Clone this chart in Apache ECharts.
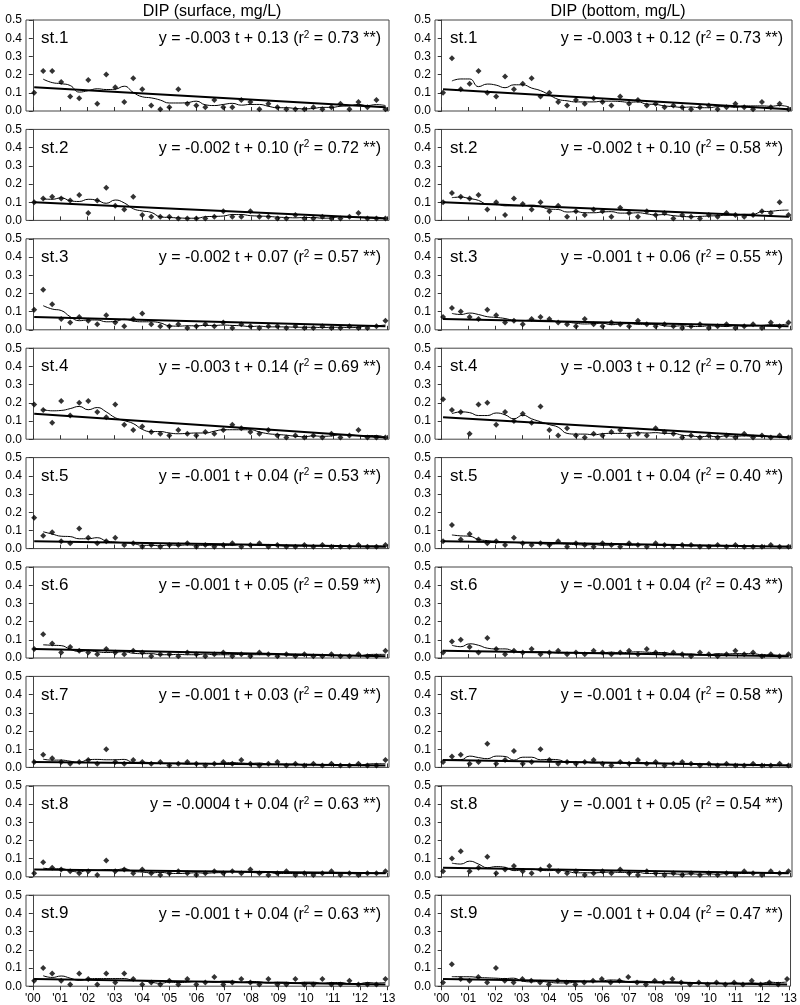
<!DOCTYPE html>
<html><head><meta charset="utf-8">
<script src="https://cdn.jsdelivr.net/npm/echarts@6/dist/echarts.min.js"></script>
<style>html,body{margin:0;padding:0;background:#fff}#c{width:800px;height:1005px}</style>
</head><body><div id="c"></div>
<script>
const times = [0.05,0.38,0.71,1.04,1.37,1.70,2.03,2.36,2.69,3.02,3.35,3.68,4.01,4.34,4.67,5.00,5.33,5.66,5.99,6.32,6.65,6.98,7.31,7.64,7.97,8.30,8.63,8.96,9.29,9.62,9.95,10.28,10.61,10.94,11.27,11.60,11.93,12.26,12.59,12.92];
const xTickLabels = ["'00","'01","'02","'03","'04","'05","'06","'07","'08","'09","'10","'11","'12","'13"];
const stations = ["st.1","st.2","st.3","st.4","st.5","st.6","st.7","st.8","st.9"];
const surface = [
[0.10,0.22,0.22,0.16,0.08,0.07,0.17,0.04,0.20,0.13,0.05,0.18,0.12,0.03,0.01,0.02,0.12,0.04,0.03,0.02,0.06,0.02,0.02,0.06,0.05,0.01,0.04,0.02,0.01,0.01,0.01,0.02,0.01,0.02,0.04,0.01,0.05,0.02,0.06,0.01],
[0.10,0.12,0.13,0.12,0.11,0.14,0.04,0.11,0.18,0.08,0.06,0.13,0.03,0.02,0.02,0.02,0.01,0.01,0.01,0.01,0.02,0.05,0.02,0.02,0.05,0.02,0.02,0.01,0.01,0.03,0.01,0.01,0.02,0.01,0.01,0.02,0.04,0.01,0.01,0.01],
[0.11,0.22,0.14,0.06,0.04,0.07,0.05,0.03,0.08,0.04,0.02,0.06,0.09,0.03,0.02,0.02,0.03,0.01,0.02,0.03,0.02,0.04,0.01,0.03,0.02,0.01,0.02,0.02,0.01,0.02,0.01,0.01,0.02,0.01,0.01,0.02,0.01,0.01,0.02,0.05],
[0.19,0.16,0.09,0.21,0.13,0.20,0.21,0.15,0.12,0.19,0.08,0.05,0.07,0.04,0.03,0.02,0.05,0.03,0.02,0.04,0.03,0.05,0.08,0.06,0.04,0.03,0.05,0.02,0.01,0.02,0.01,0.02,0.01,0.03,0.01,0.02,0.05,0.01,0.01,0.01],
[0.17,0.07,0.09,0.04,0.03,0.11,0.06,0.03,0.04,0.06,0.02,0.03,0.01,0.02,0.01,0.02,0.02,0.03,0.01,0.02,0.01,0.02,0.03,0.01,0.02,0.03,0.01,0.02,0.01,0.01,0.02,0.01,0.02,0.01,0.01,0.01,0.02,0.01,0.01,0.02],
[0.05,0.13,0.08,0.03,0.06,0.04,0.03,0.02,0.05,0.03,0.02,0.04,0.03,0.01,0.02,0.02,0.01,0.03,0.02,0.01,0.02,0.03,0.01,0.02,0.01,0.03,0.02,0.01,0.02,0.01,0.02,0.01,0.01,0.02,0.01,0.01,0.02,0.01,0.01,0.04],
[0.03,0.07,0.05,0.03,0.02,0.03,0.04,0.02,0.10,0.03,0.02,0.04,0.03,0.02,0.03,0.01,0.02,0.03,0.02,0.01,0.02,0.03,0.02,0.04,0.02,0.01,0.02,0.03,0.01,0.02,0.01,0.02,0.01,0.02,0.01,0.01,0.02,0.01,0.01,0.04],
[0.02,0.08,0.05,0.04,0.03,0.02,0.03,0.01,0.09,0.03,0.04,0.02,0.04,0.02,0.01,0.02,0.03,0.02,0.01,0.02,0.03,0.02,0.03,0.02,0.04,0.02,0.01,0.02,0.03,0.01,0.02,0.01,0.02,0.03,0.01,0.02,0.01,0.02,0.02,0.03],
[0.03,0.10,0.07,0.03,0.01,0.07,0.04,0.01,0.07,0.02,0.07,0.04,0.01,0.02,0.01,0.03,0.01,0.04,0.01,0.02,0.05,0.01,0.02,0.04,0.02,0.01,0.04,0.01,0.01,0.04,0.01,0.01,0.04,0.01,0.01,0.03,0.01,0.01,0.01,0.04]
];
const bottom = [
[0.10,0.29,0.12,0.15,0.22,0.10,0.08,0.19,0.12,0.15,0.18,0.08,0.10,0.05,0.03,0.06,0.04,0.07,0.05,0.03,0.08,0.04,0.06,0.03,0.04,0.02,0.03,0.02,0.01,0.02,0.03,0.01,0.02,0.04,0.02,0.01,0.05,0.02,0.04,0.01],
[0.10,0.15,0.13,0.12,0.14,0.06,0.10,0.03,0.12,0.09,0.06,0.10,0.05,0.08,0.02,0.05,0.03,0.06,0.05,0.02,0.07,0.04,0.02,0.05,0.03,0.04,0.01,0.03,0.02,0.01,0.03,0.02,0.04,0.03,0.02,0.03,0.05,0.04,0.10,0.03],
[0.07,0.12,0.10,0.07,0.06,0.11,0.08,0.04,0.05,0.03,0.06,0.07,0.06,0.04,0.03,0.02,0.06,0.03,0.02,0.04,0.03,0.02,0.05,0.03,0.02,0.03,0.02,0.01,0.02,0.03,0.01,0.02,0.03,0.01,0.02,0.03,0.01,0.04,0.02,0.04],
[0.22,0.16,0.15,0.03,0.19,0.20,0.08,0.15,0.10,0.14,0.09,0.18,0.05,0.02,0.06,0.02,0.01,0.03,0.02,0.04,0.05,0.02,0.03,0.02,0.06,0.04,0.03,0.01,0.02,0.01,0.02,0.01,0.02,0.01,0.03,0.01,0.02,0.01,0.02,0.01],
[0.04,0.13,0.05,0.08,0.05,0.03,0.04,0.02,0.06,0.03,0.02,0.03,0.02,0.04,0.01,0.03,0.02,0.01,0.03,0.02,0.01,0.03,0.02,0.01,0.03,0.02,0.01,0.02,0.02,0.01,0.01,0.02,0.01,0.02,0.01,0.01,0.01,0.02,0.01,0.01],
[0.03,0.09,0.10,0.06,0.03,0.11,0.05,0.02,0.04,0.03,0.05,0.02,0.03,0.04,0.02,0.03,0.02,0.04,0.03,0.02,0.03,0.04,0.02,0.05,0.03,0.02,0.03,0.02,0.01,0.03,0.02,0.01,0.02,0.04,0.02,0.03,0.01,0.02,0.01,0.02],
[0.03,0.06,0.07,0.02,0.03,0.13,0.02,0.04,0.09,0.02,0.03,0.10,0.04,0.02,0.03,0.02,0.03,0.04,0.02,0.01,0.03,0.02,0.04,0.02,0.03,0.01,0.02,0.03,0.02,0.01,0.02,0.01,0.02,0.01,0.01,0.02,0.01,0.01,0.02,0.01],
[0.03,0.10,0.14,0.03,0.05,0.11,0.02,0.04,0.06,0.03,0.02,0.04,0.06,0.03,0.02,0.03,0.01,0.02,0.03,0.02,0.04,0.02,0.01,0.03,0.02,0.01,0.02,0.01,0.02,0.01,0.02,0.01,0.02,0.01,0.03,0.02,0.01,0.03,0.02,0.03],
[0.02,0.12,0.04,0.03,0.05,0.02,0.10,0.03,0.02,0.04,0.03,0.02,0.01,0.03,0.02,0.01,0.02,0.03,0.04,0.02,0.03,0.05,0.02,0.01,0.03,0.02,0.04,0.02,0.01,0.02,0.01,0.02,0.01,0.02,0.01,0.03,0.01,0.02,0.01,0.04]
];
const trendSurfStart = [0.13,0.10,0.07,0.14,0.04,0.05,0.03,0.04,0.04];
const trendSurfEnd   = [0.02,0.01,0.02,0.01,0.01,0.01,0.01,0.02,0.01];
const trendBotStart  = [0.12,0.10,0.06,0.12,0.04,0.04,0.04,0.05,0.04];
const trendBotEnd    = [0.01,0.02,0.02,0.01,0.01,0.01,0.01,0.02,0.01];
const eqSurf = [["-0.003","0.13","0.73"],["-0.002","0.10","0.72"],["-0.002","0.07","0.57"],["-0.003","0.14","0.69"],["-0.001","0.04","0.53"],["-0.001","0.05","0.59"],["-0.001","0.03","0.49"],["-0.0004","0.04","0.63"],["-0.001","0.04","0.63"]];
const eqBot = [["-0.003","0.12","0.73"],["-0.002","0.10","0.58"],["-0.001","0.06","0.55"],["-0.003","0.12","0.70"],["-0.001","0.04","0.40"],["-0.001","0.04","0.43"],["-0.001","0.04","0.58"],["-0.001","0.05","0.54"],["-0.001","0.04","0.47"]];

function smooth(v){ // centered moving average of observed values
  const out=[];
  for(let i=1;i<v.length;i++){
    let s=0,n=0;
    for(let k=i-2;k<=i+2;k++){ if(k>=0&&k<v.length){s+=v[k];n++;} }
    out.push([times[i], s/n]);
  }
  return out;
}
const FONT = "Liberation Sans";
const grids=[],xAxes=[],yAxes=[],series=[],titles=[];
const top0=20, step=109.4, h=91;
const cols=[{left:26,width:363,data:surface,ts:trendSurfStart,te:trendSurfEnd,eq:eqSurf,right:414},
            {left:435,width:357,data:bottom,ts:trendBotStart,te:trendBotEnd,eq:eqBot,right:12}];
cols.forEach((c,ci)=>{
  stations.forEach((st,r)=>{
    const gi=grids.length;
    const top=top0+r*step;
    grids.push({left:c.left,width:c.width,top:top,height:h,show:true,borderColor:'#444',borderWidth:1,backgroundColor:'#fff'});
    const last=r===stations.length-1;
    xAxes.push({type:'value',gridIndex:gi,min:-0.25,max:13.05,interval:1,
      axisLine:{show:false},splitLine:{show:false},
      axisTick:{show:true,inside:!last,length:4,lineStyle:{color:'#333'},customValues:[0,1,2,3,4,5,6,7,8,9,10,11,12,13]},
      axisLabel:{show:last,fontFamily:FONT,fontSize:12,color:'#000',margin:6,
        customValues:[0,1,2,3,4,5,6,7,8,9,10,11,12,13],
        formatter:v=>xTickLabels[Math.round(v)]||''}});
    yAxes.push({type:'value',gridIndex:gi,min:0,max:0.5,interval:0.1,
      axisLine:{show:true,lineStyle:{color:'#444'}},splitLine:{show:false},
      axisTick:{show:true,length:4,lineStyle:{color:'#333'}},
      axisLabel:{fontFamily:FONT,fontSize:12,color:'#000',margin:4,formatter:v=>v.toFixed(1)}});
    const d=c.data[r];
    series.push({type:'scatter',xAxisIndex:gi,yAxisIndex:gi,symbol:'diamond',symbolSize:6,
      itemStyle:{color:'#000'},data:times.map((t,i)=>[t,d[i]]),z:3});
    series.push({type:'line',xAxisIndex:gi,yAxisIndex:gi,smooth:0.5,showSymbol:false,symbol:'none',
      lineStyle:{color:'#000',width:1},data:smooth(d),z:2});
    series.push({type:'line',xAxisIndex:gi,yAxisIndex:gi,showSymbol:false,symbol:'none',
      lineStyle:{color:'#000',width:2},data:[[times[0],c.ts[r]],[times[times.length-1],c.te[r]]],z:2});
    titles.push({text:st,left:c.left+10,top:top+5,textStyle:{fontFamily:FONT,fontSize:17,fontWeight:'normal',color:'#000'}});
    const e=c.eq[r];
    titles.push({text:'y = '+e[0]+' t + '+e[1]+' (r{s|2} = '+e[2]+' **)',right:c.right,top:top+5,
      textStyle:{fontFamily:FONT,fontSize:16,fontWeight:'normal',color:'#000',
        rich:{s:{fontFamily:FONT,fontSize:10,verticalAlign:'top',padding:[0,0,8,0]}}}});
  });
});
titles.push({text:'DIP (surface, mg/L)',left:207,top:-1,textAlign:'center',textStyle:{fontFamily:FONT,fontSize:16,fontWeight:'normal',color:'#000'}});
titles.push({text:'DIP (bottom, mg/L)',left:613,top:-1,textAlign:'center',textStyle:{fontFamily:FONT,fontSize:16,fontWeight:'normal',color:'#000'}});
const chart=echarts.init(document.getElementById('c'));
chart.setOption({animation:false,title:titles,grid:grids,xAxis:xAxes,yAxis:yAxes,series:series});
</script></body></html>
